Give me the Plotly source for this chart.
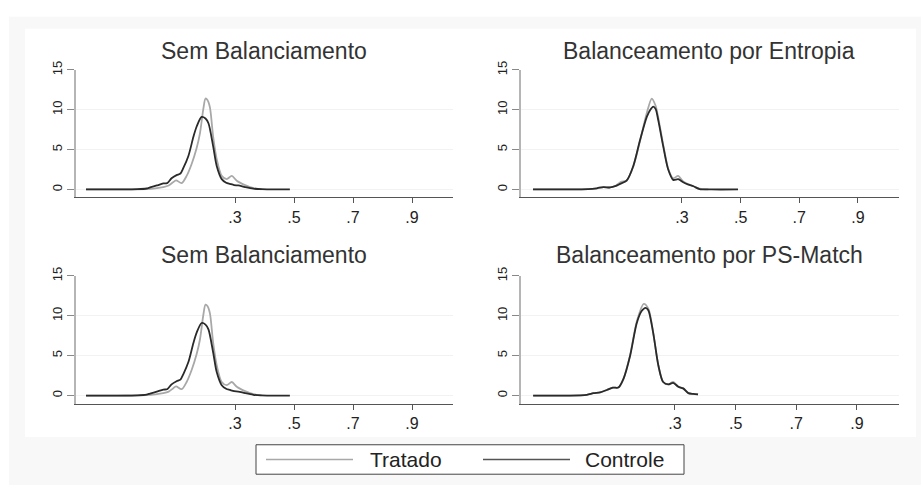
import plotly.graph_objects as go
from plotly.subplots import make_subplots

W, H = 921, 485

# Panel titles
titles = ["Sem Balanciamento", "Balanceamento por Entropia",
          "Sem Balanciamento", "Balanceamento por PS-Match"]
series_names = ["Tratado", "Controle"]

# Kernel density curves: unbalanced sample
sem_x_trat = [-0.205, -0.10, -0.03, 0.0, 0.03, 0.057, 0.075, 0.09, 0.10, 0.119, 0.136, 0.153,
              0.17, 0.181, 0.193, 0.20, 0.207, 0.215, 0.226, 0.238, 0.255, 0.272, 0.289,
              0.306, 0.334, 0.351, 0.373, 0.39]
sem_y_trat = [0, 0, 0.02, 0.05, 0.15, 0.3, 0.5, 0.9, 1.15, 0.8, 1.7, 3.2,
              5.2, 7.0, 10.2, 11.4, 11.2, 10.3, 6.6, 3.8, 1.7, 1.3, 1.7,
              1.1, 0.55, 0.3, 0.1, 0.02]
sem_x_ctrl = [-0.205, -0.10, -0.03, 0.0, 0.012, 0.035, 0.057, 0.07, 0.085, 0.102, 0.115, 0.125,
              0.142, 0.159, 0.17, 0.187, 0.20, 0.21, 0.226, 0.238, 0.255, 0.27, 0.283,
              0.297, 0.311, 0.334, 0.362, 0.39, 0.44, 0.486]
sem_y_ctrl = [0, 0, 0.03, 0.12, 0.25, 0.5, 0.75, 0.8, 1.4, 1.8, 2.0, 2.7,
              4.2, 6.6, 7.9, 9.1, 8.9, 8.3, 5.4, 2.95, 1.3, 0.85, 0.7,
              0.55, 0.5, 0.3, 0.1, 0.03, 0, 0]

# Entropy balancing
ent_x_trat = [-0.208, -0.10, -0.02, 0.01, 0.032, 0.055, 0.075, 0.092, 0.111, 0.134, 0.157,
              0.18, 0.197, 0.21, 0.219, 0.236, 0.253, 0.27, 0.287, 0.304, 0.322, 0.339,
              0.36, 0.39]
ent_y_trat = [0, 0, 0.03, 0.15, 0.3, 0.25, 0.5, 0.95, 1.1, 2.9, 6.1,
              9.6, 11.4, 10.5, 9.0, 5.6, 2.6, 1.4, 1.7, 1.0, 0.65, 0.4,
              0.1, 0]
ent_x_ctrl = [-0.208, -0.10, -0.02, 0.01, 0.032, 0.055, 0.075, 0.089, 0.111, 0.134, 0.157,
              0.18, 0.192, 0.202, 0.21, 0.219, 0.236, 0.253, 0.27, 0.287, 0.304, 0.322,
              0.339, 0.36, 0.40, 0.491]
ent_y_ctrl = [0, 0, 0.03, 0.15, 0.3, 0.25, 0.45, 0.7, 1.1, 2.95, 6.2,
              9.1, 10.0, 10.4, 10.1, 8.7, 5.4, 2.5, 1.2, 1.3, 0.9, 0.6,
              0.4, 0.05, 0, 0]

# Propensity-score matching
ps_x_trat = [-0.168, -0.05, 0.009, 0.031, 0.053, 0.075, 0.095, 0.113, 0.13, 0.152, 0.174,
             0.197, 0.212, 0.228, 0.245, 0.261, 0.278, 0.294, 0.311, 0.327, 0.344, 0.36, 0.376]
ps_y_trat = [0, 0, 0.1, 0.3, 0.4, 0.7, 1.0, 1.0, 2.1, 5.1, 9.3,
             11.5, 10.9, 7.9, 3.8, 1.7, 1.4, 1.7, 1.1, 0.9, 0.3, 0.2, 0.15]
ps_x_ctrl = [-0.168, -0.05, 0.009, 0.031, 0.053, 0.075, 0.095, 0.113, 0.13, 0.152, 0.174,
             0.19, 0.203, 0.212, 0.228, 0.245, 0.261, 0.278, 0.294, 0.311, 0.327, 0.344,
             0.36, 0.376]
ps_y_ctrl = [0, 0, 0.1, 0.3, 0.4, 0.7, 1.0, 1.0, 2.1, 5.0, 9.1,
             10.6, 11.0, 10.7, 7.9, 3.8, 1.7, 1.4, 1.6, 1.1, 0.9, 0.3,
             0.2, 0.15]

panels = [
    (sem_x_trat, sem_y_trat, sem_x_ctrl, sem_y_ctrl),
    (ent_x_trat, ent_y_trat, ent_x_ctrl, ent_y_ctrl),
    (sem_x_trat, sem_y_trat, sem_x_ctrl, sem_y_ctrl),
    (ps_x_trat, ps_y_trat, ps_x_ctrl, ps_y_ctrl),
]

x_tickvals = [0.3, 0.5, 0.7, 0.9]
x_ticktext = [".3", ".5", ".7", ".9"]
y_tickvals = [0, 5, 10, 15]
x_ranges = [[-0.239, 1.039], [-0.249, 1.040], [-0.239, 1.039], [-0.208, 1.039]]
y_range = [-1, 15]

COL_TRAT = "#a8a8a8"
COL_CTRL = "#2a2a2a"

# pixel boxes of the four plot regions (left, right, top, bottom)
boxes = [(76, 453, 62, 192), (521, 899, 62, 192),
         (76, 453, 272, 402), (521, 899, 272, 402)]


def px_x(p):
    return p / W


def px_y(p):
    return 1 - p / H


fig = make_subplots(rows=2, cols=2)

for i, (xt, yt, xc, yc) in enumerate(panels):
    r, c = i // 2 + 1, i % 2 + 1
    fig.add_trace(go.Scatter(x=xt, y=yt, mode="lines", name=series_names[0],
                             line=dict(color=COL_TRAT, width=1.8, shape="spline", smoothing=0.8),
                             showlegend=False), row=r, col=c)
    fig.add_trace(go.Scatter(x=xc, y=yc, mode="lines", name=series_names[1],
                             line=dict(color=COL_CTRL, width=1.8, shape="spline", smoothing=0.8),
                             showlegend=False), row=r, col=c)

font_family = "Liberation Sans, Arial, sans-serif"

for i in range(4):
    l, rgt, t, b = boxes[i]
    suffix = "" if i == 0 else str(i + 1)
    fig.layout["xaxis" + suffix].update(
        domain=[px_x(l), px_x(rgt)], range=x_ranges[i],
        tickvals=x_tickvals, ticktext=x_ticktext,
        ticks="outside", ticklen=5, tickcolor="#555", tickwidth=1,
        showline=True, linecolor="#555", linewidth=1,
        showgrid=False, zeroline=False,
        tickfont=dict(size=16, color="#222", family=font_family))
    fig.layout["yaxis" + suffix].update(
        domain=[px_y(b), px_y(t)], range=y_range,
        tickvals=y_tickvals, ticks="outside", ticklen=7, tickcolor="#888", tickwidth=1,
        tickangle=-90,
        showline=True, linecolor="#b5b5b5", linewidth=2,
        showgrid=True, gridcolor="#f2f2f2", gridwidth=1, zeroline=False,
        tickfont=dict(size=13, color="#222", family=font_family))

    cx = (l + rgt) / 2 - 1
    ty = 43 if i < 2 else 251
    fig.add_annotation(x=px_x(cx), y=px_y(ty), xref="paper", yref="paper",
                       text=titles[i], showarrow=False, xanchor="center", yanchor="middle",
                       font=dict(size=23, color="#333", family=font_family))

shapes = [
    # outer light band and white graph region
    dict(type="rect", xref="paper", yref="paper", x0=px_x(9), x1=px_x(921), y0=px_y(485), y1=px_y(8),
         fillcolor="#f8f8f8", line=dict(width=0), layer="below"),
    dict(type="rect", xref="paper", yref="paper", x0=px_x(25), x1=px_x(916), y0=px_y(436), y1=px_y(20),
         fillcolor="#ffffff", line=dict(width=0), layer="below"),
    # legend box
    dict(type="rect", xref="paper", yref="paper", x0=px_x(256), x1=px_x(684), y0=px_y(474), y1=px_y(444),
         fillcolor="#ffffff", line=dict(color="#444", width=1)),
    dict(type="line", xref="paper", yref="paper", x0=px_x(266), x1=px_x(353), y0=px_y(459), y1=px_y(459),
         line=dict(color=COL_TRAT, width=1.5)),
    dict(type="line", xref="paper", yref="paper", x0=px_x(483), x1=px_x(570), y0=px_y(459), y1=px_y(459),
         line=dict(color="#555", width=1.3)),
]
fig.update_layout(shapes=shapes)

fig.add_annotation(x=px_x(368), y=px_y(459), xref="paper", yref="paper", text=series_names[0],
                   showarrow=False, xanchor="left", yanchor="middle",
                   font=dict(size=21, color="#222", family=font_family))
fig.add_annotation(x=px_x(583), y=px_y(459), xref="paper", yref="paper", text=series_names[1],
                   showarrow=False, xanchor="left", yanchor="middle",
                   font=dict(size=21, color="#222", family=font_family))

fig.update_layout(width=W, height=H, margin=dict(l=0, r=0, t=0, b=0),
                  paper_bgcolor="#ffffff", plot_bgcolor="rgba(0,0,0,0)",
                  showlegend=False, font=dict(family=font_family))

fig.write_html("out.html")
